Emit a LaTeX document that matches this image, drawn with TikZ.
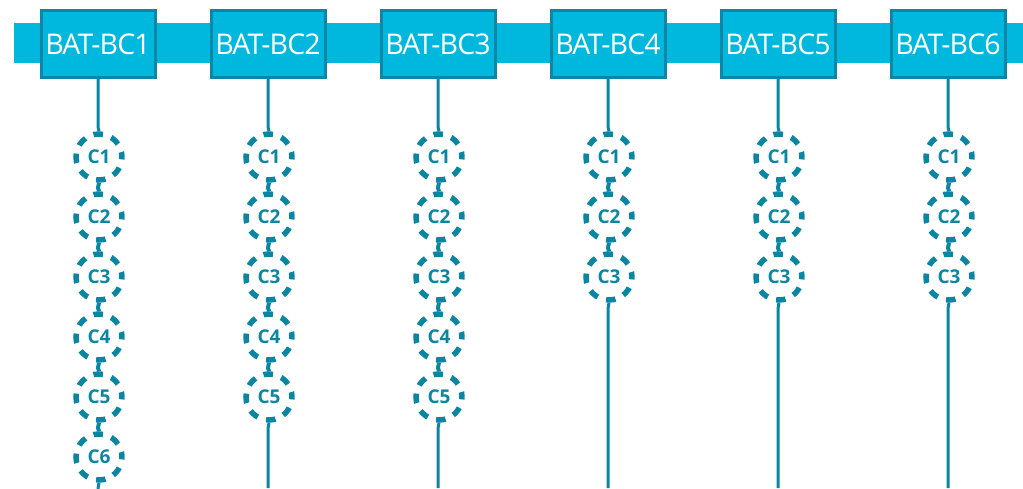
\documentclass[tikz,border=0pt]{standalone}
\usepackage{fontspec}
\setmainfont{Open Sans}
\definecolor{busfill}{HTML}{00B8DE}
\definecolor{boxedge}{HTML}{0A87A6}
\definecolor{cellteal}{HTML}{0A86A3}
\tikzset{
  battbox/.style={draw=boxedge, line width=3pt, fill=busfill, minimum width=114pt,
    minimum height=67pt, inner sep=0pt, text=white, font=\fontsize{28.5}{28.5}\selectfont},
  cell/.style={circle, draw=cellteal, line width=5.5pt, dash pattern=on 9.5pt off 8.8pt,
    dash phase=4.5pt, minimum size=46pt, inner sep=0pt, text=cellteal,
    font=\bfseries\fontsize{19}{19}\selectfont},
  wire/.style={draw=cellteal, line width=3pt},
}
\begin{document}
\begin{tikzpicture}[x=1pt, y=-1pt]
  \useasboundingbox (0,0) rectangle (1023,488);
  % common bus bar
  \fill[busfill] (14,23) rectangle (1023,63);
  % battery columns: number, cell count, cell count minus one
  \foreach \i/\n/\m in {1/6/5, 2/5/4, 3/5/4, 4/3/2, 5/3/2, 6/3/2} {
    \pgfmathsetmacro{\cx}{98 + (\i-1)*170}
    \node[battbox] (b\i) at (\cx,44) {\addfontfeature{LetterSpace=-3}BAT-BC\i};
    \foreach \k in {1,...,\n} {
      \pgfmathsetmacro{\cy}{157 + (\k-1)*60}
      \node[cell] (c\i-\k) at ({\cx+1},\cy) {C\k};
    }
    % box to first cell
    \draw[wire] (b\i.south) -- ++(0,48) -- (c\i-1.north);
    % cell to cell
    \foreach \k [evaluate=\k as \kn using int(\k+1)] in {1,...,\m} {
      \draw[wire, line width=4pt] (c\i-\k.south) -- ++(-1,5) -- (c\i-\kn.north);
    }
    % last cell down to the bottom edge
    \coordinate (e\i) at (\cx,488);
    \draw[wire] (c\i-\n.south) -- ++(-1,6) -- (e\i);
  }
\end{tikzpicture}
\end{document}
